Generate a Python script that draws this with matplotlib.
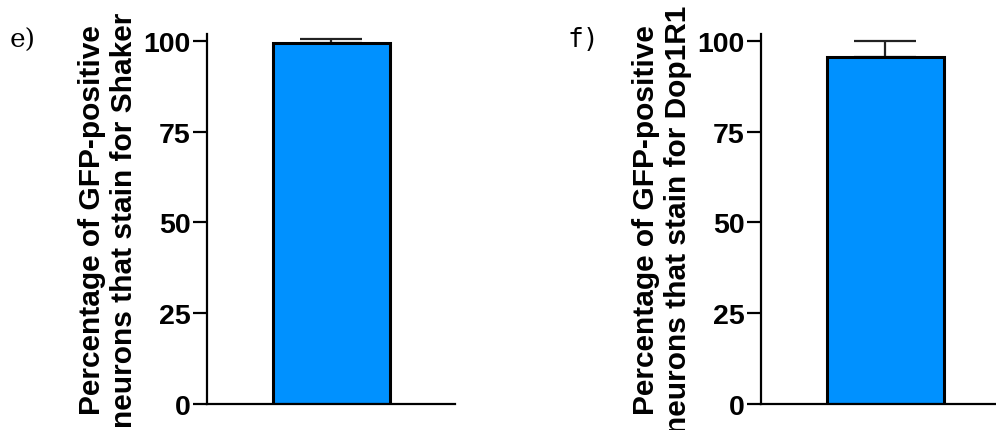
import matplotlib
matplotlib.use("Agg")
import matplotlib.pyplot as plt

# Percent of GFP-positive neurons co-staining for each marker
panels = ["e)", "f)"]
markers = ["Shaker", "Dop1R1"]
means = [99.4, 95.5]
errors = [1.1, 4.5]
yticks = [0, 25, 50, 75, 100]

BAR_COLOR = "#0091ff"

plt.rcParams["font.family"] = ["Liberation Sans", "DejaVu Sans"]

fig = plt.figure(figsize=(9.96, 4.31), dpi=100)
W, H = 996, 431

axis_x = [207, 761]
letter_x = [10, 568]
letter_font = ["DejaVu Serif", "DejaVu Sans Mono"]

for i in range(2):
    ax = fig.add_axes([axis_x[i] / W, 1 - 405 / H, 248 / W, 370 / H])
    ax.bar([0], [means[i]], width=1.0, color=BAR_COLOR, edgecolor="black",
           linewidth=2.2, zorder=2)
    ax.errorbar([0], [means[i]], yerr=[[0], [errors[i]]], fmt="none",
                ecolor="#222222", elinewidth=1.6, capsize=22, capthick=1.6,
                zorder=1)
    ax.set_xlim(-1.064, 1.056)
    ax.set_ylim(0, 101.9)
    ax.set_yticks(yticks)
    ax.set_xticks([])
    for side in ("top", "right"):
        ax.spines[side].set_visible(False)
    for side in ("left", "bottom"):
        ax.spines[side].set_linewidth(1.6)
    ax.tick_params(axis="y", length=10, width=1.6, pad=2, labelsize=20.5)
    for lbl in ax.get_yticklabels():
        lbl.set_fontweight("bold")
    ax.set_ylabel(f"Percentage of GFP-positive\nneurons that stain for {markers[i]}",
                  fontsize=21.5, fontweight="bold", linespacing=1.2)
    ax.yaxis.set_label_coords(-69 / 248, 0.5)
    fig.text(letter_x[i] / W, 1 - 40 / H, panels[i], fontsize=19,
             family=letter_font[i], va="center", ha="left")

fig.savefig("out.png", dpi=100)
